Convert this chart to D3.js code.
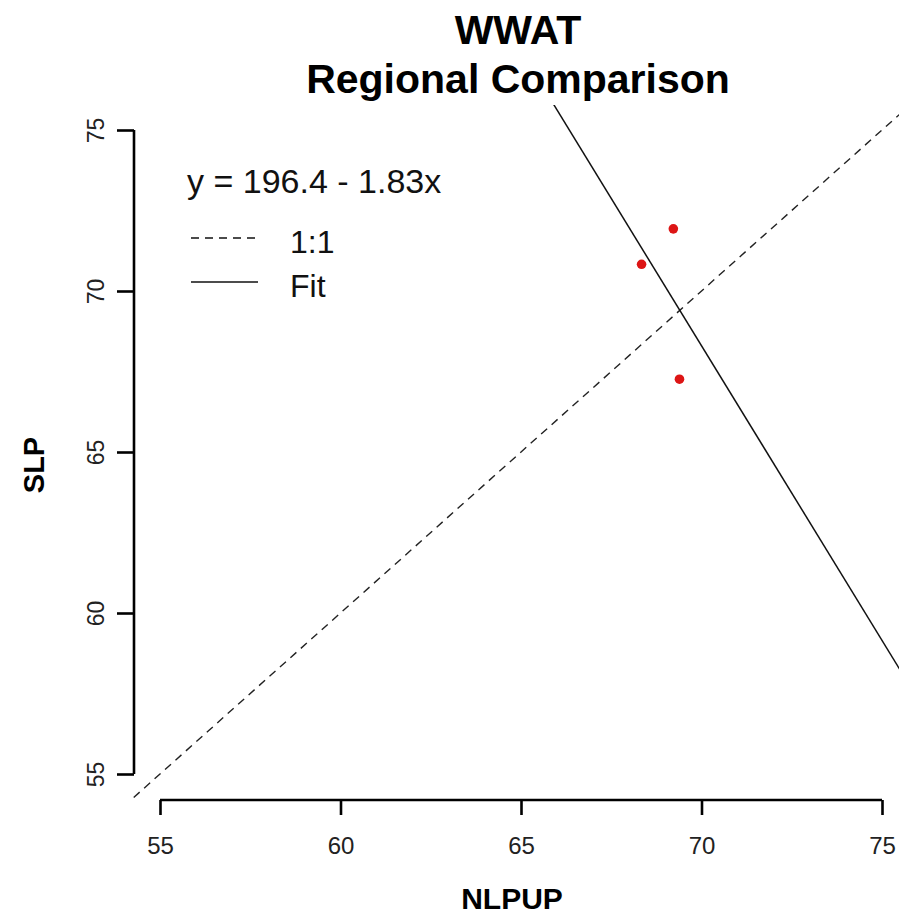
<!DOCTYPE html>
<html>
<head>
<meta charset="utf-8">
<script src="https://cdn.jsdelivr.net/npm/d3@7"></script>
<style>
  html, body { margin: 0; padding: 0; background: #fff; }
  svg { display: block; font-family: "Liberation Sans", Arial, sans-serif; }
</style>
</head>
<body>
<svg id="chart" width="899" height="917"></svg>
<script>
// ---- data ----
const titleLines = ["WWAT", "Regional Comparison"];
const xLabel = "NLPUP";
const yLabel = "SLP";
const xTicks = [55, 60, 65, 70, 75];
const yTicks = [55, 60, 65, 70, 75];
const pointsX = [69.22, 68.34, 69.39];
const pointsY = [71.93, 70.83, 67.26];
const fitIntercept = 196.4;
const fitSlope = -1.83;
const equationText = "y = 196.4 - 1.83x";
const legendLabels = ["1:1", "Fit"];

// ---- layout ----
const svg = d3.select("#chart");
const x = d3.scaleLinear().domain([55, 75]).range([160, 882]);
const y = d3.scaleLinear().domain([55, 75]).range([774, 130]);
const plot = { left: 128, top: 105, right: 912, bottom: 800 };
const xMin = x.invert(plot.left), xMax = x.invert(plot.right);

svg.append("defs").append("clipPath").attr("id", "clip")
  .append("rect")
  .attr("x", plot.left).attr("y", plot.top)
  .attr("width", plot.right - plot.left).attr("height", plot.bottom - plot.top);

// title
svg.selectAll("text.title").data(titleLines).join("text")
  .attr("class", "title")
  .attr("x", 518).attr("y", (d, i) => i === 0 ? 44 : 93)
  .attr("text-anchor", "middle")
  .attr("font-weight", "bold")
  .attr("font-size", 41)
  .text(d => d);

// x axis
const xAxis = d3.axisBottom(x).tickValues(xTicks).tickSize(15).tickPadding(22).tickFormat(d3.format("d"));
const gx = svg.append("g").attr("transform", "translate(0,800)").call(xAxis);
gx.select(".domain").attr("d", `M${x(55)},0H${x(75)}`).attr("stroke-width", 2.6).attr("stroke", "#000");
gx.selectAll(".tick line").attr("stroke-width", 2.6).attr("stroke", "#000");
gx.selectAll(".tick text").attr("font-size", 24).attr("fill", "#222").attr("font-family", "Liberation Sans, Arial, sans-serif");

// y axis
const yAxis = d3.axisLeft(y).tickValues(yTicks).tickSize(17).tickPadding(0).tickFormat(d3.format("d"));
const gy = svg.append("g").attr("transform", "translate(134,0)").call(yAxis);
gy.select(".domain").attr("d", `M0,${y(55)}V${y(75)}`).attr("stroke-width", 2.6).attr("stroke", "#000");
gy.selectAll(".tick line").attr("stroke-width", 2.6).attr("stroke", "#000");
gy.selectAll(".tick text")
  .attr("font-size", 23).attr("fill", "#222").attr("font-family", "Liberation Sans, Arial, sans-serif")
  .attr("x", null).attr("dy", null)
  .attr("text-anchor", "middle")
  .attr("transform", "translate(-30,0) rotate(-90)");

// axis titles
svg.append("text")
  .attr("x", 512).attr("y", 909)
  .attr("text-anchor", "middle").attr("font-weight", "bold").attr("font-size", 30)
  .text(xLabel);
svg.append("text")
  .attr("transform", "translate(44,465) rotate(-90)")
  .attr("text-anchor", "middle").attr("font-weight", "bold").attr("font-size", 29)
  .text(yLabel);

// lines
const plotG = svg.append("g").attr("clip-path", "url(#clip)");
const line = d3.line().x(d => x(d[0])).y(d => y(d[1]));
plotG.append("path")
  .datum([[xMin - 1, xMin - 1], [xMax + 1, xMax + 1]])
  .attr("d", line).attr("fill", "none").attr("stroke", "#222")
  .attr("stroke-width", 1.4).attr("stroke-dasharray", "8,6");
plotG.append("path")
  .datum([[xMin - 1, fitIntercept + fitSlope * (xMin - 1)], [xMax + 1, fitIntercept + fitSlope * (xMax + 1)]])
  .attr("d", line).attr("fill", "none").attr("stroke", "#111")
  .attr("stroke-width", 1.5);

// points
plotG.selectAll("circle").data(pointsX.map((v, i) => [v, pointsY[i]])).join("circle")
  .attr("cx", d => x(d[0])).attr("cy", d => y(d[1])).attr("r", 4.8)
  .attr("fill", "#dd1515");

// legend
svg.append("text")
  .attr("x", 187).attr("y", 193).attr("font-size", 34).attr("fill", "#111")
  .text(equationText);
const legY = [238, 282];
const legG = svg.append("g");
legG.selectAll("line").data(legendLabels).join("line")
  .attr("x1", 191).attr("x2", 258)
  .attr("y1", (d, i) => legY[i]).attr("y2", (d, i) => legY[i])
  .attr("stroke", "#111").attr("stroke-width", 1.4)
  .attr("stroke-dasharray", (d, i) => i === 0 ? "8,6" : null);
legG.selectAll("text").data(legendLabels).join("text")
  .attr("x", 290).attr("y", (d, i) => legY[i] + 15)
  .attr("font-size", 32).attr("fill", "#111")
  .text(d => d);
</script>
</body>
</html>
